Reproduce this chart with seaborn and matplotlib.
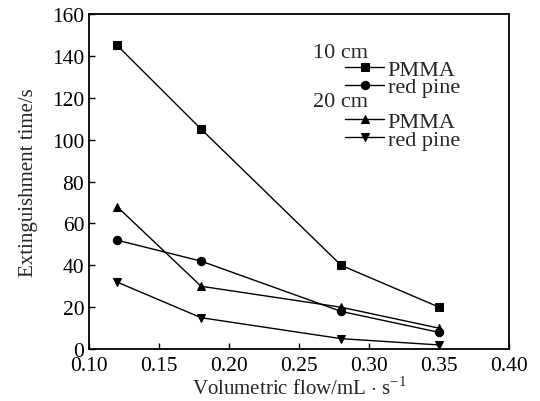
import matplotlib
matplotlib.use("Agg")
import matplotlib.pyplot as plt
import numpy as np
import pandas as pd
import seaborn as sns

# flow rates (mL/s) and extinguishment times (s)
flow = [0.12, 0.18, 0.28, 0.35]
pmma_10 = [145, 105, 40, 20]
pine_10 = [52, 42, 18, 8]
pmma_20 = [68, 30, 20, 10]
pine_20 = [32, 15, 5, 2]

series = [
    ("10 cm", "PMMA", pmma_10, "s"),
    ("10 cm", "red pine", pine_10, "o"),
    ("20 cm", "PMMA", pmma_20, "^"),
    ("20 cm", "red pine", pine_20, "v"),
]

sns.set_style("ticks")
plt.rcParams["font.family"] = ["Liberation Serif", "DejaVu Serif"]
plt.rcParams["mathtext.fontset"] = "custom"
plt.rcParams["mathtext.rm"] = "Liberation Serif"

fig = plt.figure(figsize=(5.4, 4.02), dpi=100)
ax = fig.add_axes([0.165, 0.129, 0.778, 0.834])

handles = {}
for dist, mat, vals, mk in series:
    df = pd.DataFrame({"flow": flow, "time": vals})
    sns.lineplot(data=df, x="flow", y="time", ax=ax, color="black", lw=1.0,
                 marker=mk, markersize=6, markeredgecolor="black")
    handles[(dist, mat)] = ax.lines[-1]

ax.set_xlim(0.10, 0.40)
ax.set_ylim(0, 160)
ax.set_xticks(np.arange(0.10, 0.401, 0.05))
ax.set_xticklabels(["0.10", "0.15", "0.20", "0.25", "0.30", "0.35", "0.40"])
ax.set_yticks(range(0, 161, 20))
ax.tick_params(direction="in", length=4, width=1, labelsize=15.5, colors="black")
ax.tick_params(axis="x", pad=5)
for sp in ax.spines.values():
    sp.set_linewidth(1.3)
    sp.set_color("black")

ax.set_xlabel("Volumetric flow/mL $\\cdot$ s$^{-1}$", fontsize=15, labelpad=1)
ax.set_ylabel("Extinguishment time/s", fontsize=15, labelpad=10)

# grouped legend: headers as text, entries as two small legends
ax.text(0.533, 0.884, "10 cm", transform=ax.transAxes, fontsize=16,
        va="center", ha="left")
ax.text(0.533, 0.738, "20 cm", transform=ax.transAxes, fontsize=16,
        va="center", ha="left")
leg_kw = dict(loc="center left", frameon=False, fontsize=16,
              handlelength=1.75, handletextpad=0.15, labelspacing=-0.12,
              borderpad=0, borderaxespad=0)
leg1 = ax.legend([handles[("10 cm", "PMMA")], handles[("10 cm", "red pine")]],
                 ["PMMA", "red pine"], bbox_to_anchor=(0.61, 0.808), **leg_kw)
ax.add_artist(leg1)
ax.legend([handles[("20 cm", "PMMA")], handles[("20 cm", "red pine")]],
          ["PMMA", "red pine"], bbox_to_anchor=(0.61, 0.651), **leg_kw)

fig.savefig("out.png", dpi=100)
